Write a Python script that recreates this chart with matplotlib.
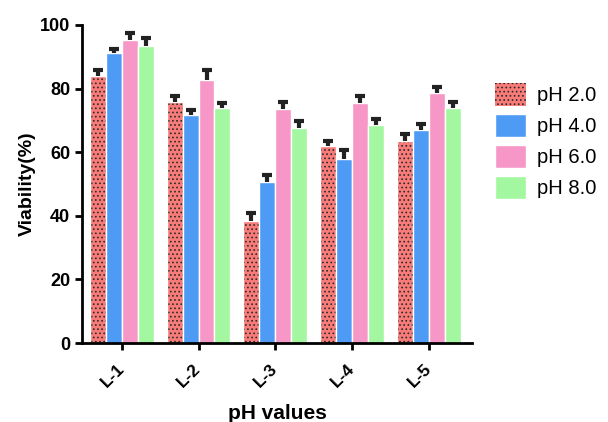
import numpy as np
import matplotlib.pyplot as plt

plt.rcParams['font.family'] = ['Liberation Sans', 'DejaVu Sans']
plt.rcParams['hatch.linewidth'] = 0.7

groups = ['L-1', 'L-2', 'L-3', 'L-4', 'L-5']
series = ['pH 2.0', 'pH 4.0', 'pH 6.0', 'pH 8.0']
ph2 = [84.0, 75.8, 38.5, 62.0, 63.5]
ph4 = [91.3, 71.8, 50.5, 58.0, 67.0]
ph6 = [95.3, 82.8, 73.5, 75.5, 78.5]
ph8 = [93.5, 73.9, 67.5, 68.5, 74.0]
err2 = [1.8, 1.8, 2.3, 1.6, 2.3]
err4 = [1.0, 1.5, 2.3, 2.8, 1.7]
err6 = [2.0, 3.0, 2.3, 2.3, 2.0]
err8 = [2.3, 1.7, 2.3, 2.0, 1.7]
colors = ['#F77B78', '#4E9BF5', '#F797C7', '#A3F7A0']
hatches = ['....', None, None, None]

fig = plt.figure(figsize=(6.08, 4.22), dpi=100)
ax = fig.add_axes([0.135, 0.187, 0.641, 0.754])

x = np.arange(len(groups))
w = 0.208
for i, (vals, errs) in enumerate(zip([ph2, ph4, ph6, ph8], [err2, err4, err6, err8])):
    pos = x + (i - 1.5) * w
    if hatches[i]:
        # hatch takes the edge colour, so draw the white outline separately
        ax.bar(pos, vals, w, color=colors[i], edgecolor='#2a2a2a', linewidth=0,
               hatch=hatches[i], label=series[i], zorder=2)
        ax.bar(pos, vals, w, fill=False, edgecolor='white', linewidth=1, zorder=2)
    else:
        ax.bar(pos, vals, w, color=colors[i], edgecolor='white', linewidth=1,
               label=series[i], zorder=2)
    eb = ax.errorbar(pos, vals, yerr=[np.zeros(len(errs)), errs], fmt='none',
                     ecolor='#222222', elinewidth=3, capsize=3.5, capthick=3, zorder=3)
    eb[1][0].set_visible(False)

ax.set_xlim(-0.517, 4.56)
ax.set_ylim(0, 100)
ax.set_yticks([0, 20, 40, 60, 80, 100])
ax.set_xticks(x)
ax.set_xticklabels(groups, rotation=45, ha='right', va='center',
                   rotation_mode='anchor', fontsize=12.5, fontweight='bold')
for lab in ax.get_yticklabels():
    lab.set_fontweight('bold')
    lab.set_fontsize(13)
ax.spines['top'].set_visible(False)
ax.spines['right'].set_visible(False)
ax.spines['left'].set_linewidth(2)
ax.spines['bottom'].set_linewidth(2)
ax.tick_params(axis='both', width=2, length=5)
ax.tick_params(axis='x', pad=12)
ax.set_ylabel('Viability(%)', fontsize=14, fontweight='bold', labelpad=3)
ax.set_xlabel('pH values', fontsize=15, fontweight='bold', labelpad=10)

fig.legend(*ax.get_legend_handles_labels(), loc='upper left',
           bbox_to_anchor=(495 / 608, 1 - 83 / 422), frameon=False,
           borderpad=0, borderaxespad=0, fontsize=14.5, handlelength=1.55,
           handleheight=1.35, handletextpad=0.55, labelspacing=0.42)

fig.savefig('out.png', dpi=100)
